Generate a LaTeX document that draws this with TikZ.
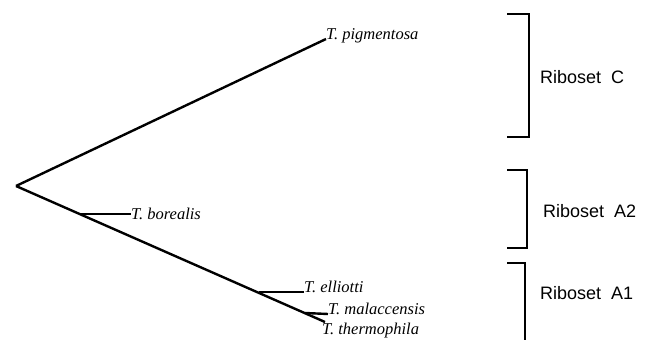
\documentclass[tikz,border=0pt]{standalone}
\usepackage{fontspec}
\setmainfont{Liberation Serif}
\setsansfont{Liberation Sans}
\usetikzlibrary{positioning}

\begin{document}
\begin{tikzpicture}[
        x=1pt, y=-1pt,
        branch/.style={draw, line width=2.4pt},
        bracket/.style={draw, line width=1.6pt},
        taxon/.style={font=\fontsize{16.5}{18}\selectfont\itshape, inner sep=0pt},
        group/.style={font=\fontsize{18}{20}\sffamily, anchor=west, inner sep=0pt},
    ]
        \useasboundingbox (0,0) rectangle (651,340);

        % tree
        \coordinate (root) at (16,186);
        \coordinate (bor) at (80,214);
        \coordinate (ell) at (259,292);
        \coordinate (mal) at (305,313);
        \coordinate (tip) at (325,322);

        \node[taxon, anchor=base west] (pig) at (326,39) {T. pigmentosa};
        \node[taxon, anchor=west] (borealis) at (131,214) {T. borealis};
        \node[taxon, anchor=base west] (elliotti) at (304,292) {T. elliotti};
        \node[taxon, anchor=base west] (malacc) at (328,314) {T. malaccensis};
        \node[taxon, anchor=base west] (thermo) at (322,334) {T. thermophila};

        \path[branch] (root) -- (pig.base west);
        \path[branch] (root) -- (tip);
        \path[branch] (bor) -- (borealis.west);
        \path[branch] (ell) -- (elliotti.base west);
        \path[branch] (mal) -- (malacc.base west);

        % ribosets
        \coordinate (c1) at (507,14);
        \coordinate (c2) at (529,137);
        \coordinate (a21) at (507,170);
        \coordinate (a22) at (527,248);
        \coordinate (a11) at (507,263);
        \coordinate (a12) at (525,345);

        \path[bracket] (c1) -| (c2) -- (c2 -| c1);
        \path[bracket] (a21) -| (a22) -- (a22 -| a21);
        \path[bracket] (a11) -| (a12);

        \node[group] (ribC) at (540,77) {Riboset\ \ C};
        \node[group] (ribA2) at (543,211) {Riboset\ \ A2};
        \node[group] (ribA1) at (540,293) {Riboset\ \ A1};
    \end{tikzpicture}
\end{document}
